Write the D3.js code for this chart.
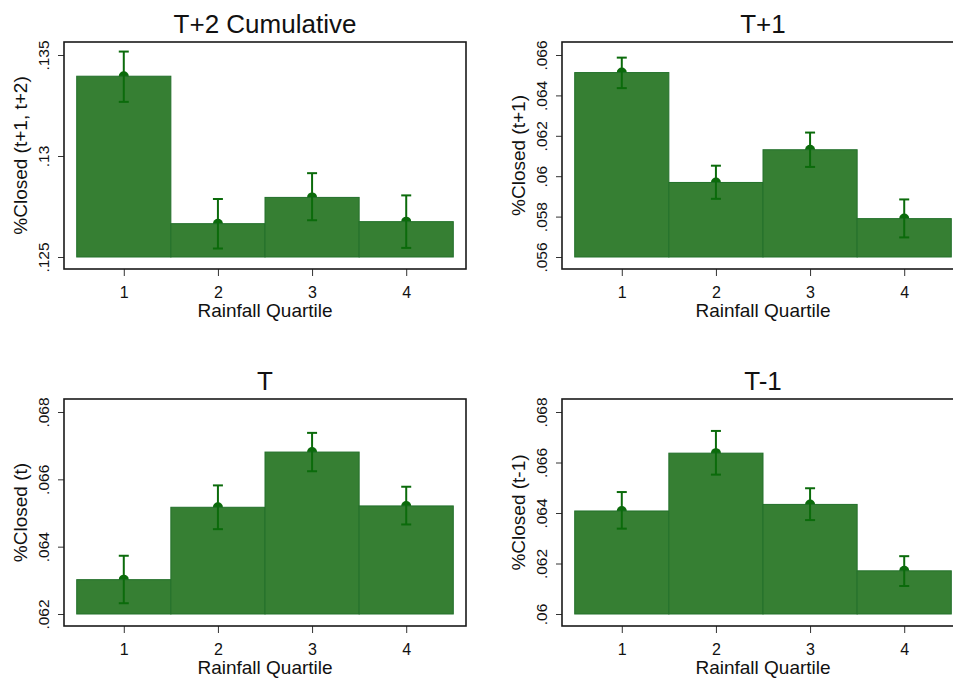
<!DOCTYPE html>
<html>
<head>
<meta charset="utf-8">
<script src="https://cdn.jsdelivr.net/npm/d3@7"></script>
<style>
  body { margin: 0; background: #fff; }
  svg { display: block; font-family: "Liberation Sans", Arial, sans-serif; }
</style>
</head>
<body>
<div id="viz"></div>
<script>
// rainfall quartile on x, share of closures on y (Stata style, 2x2 panels)
var quartiles = [1, 2, 3, 4];
var panelTitles = ["T+2 Cumulative", "T+1", "T", "T-1"];
var yTitles = ["%Closed (t+1, t+2)", "%Closed (t+1)", "%Closed (t)", "%Closed (t-1)"];

var meanT2 = [0.13395, 0.12665, 0.12795, 0.12675],
    loT2 = [0.13268, 0.12542, 0.12682, 0.12545],
    hiT2 = [0.13517, 0.12787, 0.12915, 0.12805],
    ticksT2 = [0.125, 0.13, 0.135];

var meanT1 = [0.06513, 0.05969, 0.06131, 0.0579],
    loT1 = [0.06436, 0.05888, 0.06046, 0.05697],
    hiT1 = [0.06587, 0.06052, 0.06216, 0.05885],
    ticksT1 = [0.056, 0.058, 0.06, 0.062, 0.064, 0.066];

var meanT = [0.06302, 0.06517, 0.06681, 0.06521],
    loT = [0.06232, 0.06452, 0.06624, 0.06466],
    hiT = [0.06373, 0.06582, 0.06738, 0.06578],
    ticksT = [0.062, 0.064, 0.066, 0.068];

var meanTm1 = [0.06408, 0.06637, 0.06434, 0.06171],
    loTm1 = [0.06338, 0.06552, 0.06372, 0.06111],
    hiTm1 = [0.06483, 0.06725, 0.06498, 0.06229],
    ticksTm1 = [0.06, 0.062, 0.064, 0.066, 0.068];

var panels = [
    { mean: meanT2, lo: loT2, hi: hiT2, ticks: ticksT2 },
    { mean: meanT1, lo: loT1, hi: hiT1, ticks: ticksT1 },
    { mean: meanT, lo: loT, hi: hiT, ticks: ticksT },
    { mean: meanTm1, lo: loTm1, hi: hiTm1, ticks: ticksTm1 }
];

var width = 953,
    height = 681,
    colLeft = [64, 562],
    rowTop = [42, 399],
    boxW = 402,
    boxH = 227;

var barFill = "#367f33",
    barEdge = "#22702a",
    ciColor = "#0b6b0b";

// stata drops the leading zero: .135, .06
function stataFmt(v) {
    return (+v.toFixed(4)).toString().replace(/^0\./, '.');
}

var svg = d3.select('#viz').append('svg')
    .attr('width', width)
    .attr('height', height);

panels.forEach(function (p, i) {
    var left = colLeft[i % 2],
        top = rowTop[Math.floor(i / 2)];

    var g = svg.append('g')
        .attr('transform', 'translate(' + left + ',' + top + ')');

    var x = d3.scaleLinear()
        .domain([0.365, 4.635])
        .range([0, boxW]);

    var y = d3.scaleLinear()
        .domain([p.ticks[0], p.ticks[p.ticks.length - 1]])
        .range([boxH - 12, 13]);

    var base = p.ticks[0];

    // dots first, the bars cover their lower half
    g.selectAll('circle').data(quartiles)
        .enter().append('circle')
        .attr('cx', function (d) { return x(d); })
        .attr('cy', function (d, k) { return y(p.mean[k]); })
        .attr('r', 5)
        .attr('fill', ciColor);

    g.selectAll('rect.bar').data(quartiles)
        .enter().append('rect')
        .attr('class', 'bar')
        .attr('x', function (d) { return x(d - 0.5); })
        .attr('width', function (d) { return x(d + 0.5) - x(d - 0.5); })
        .attr('y', function (d, k) { return y(p.mean[k]); })
        .attr('height', function (d, k) { return y(base) - y(p.mean[k]); })
        .attr('fill', barFill)
        .attr('stroke', barEdge)
        .attr('stroke-width', 1);

    // error bars with caps
    var ci = g.selectAll('g.ci').data(quartiles)
        .enter().append('g')
        .attr('class', 'ci')
        .attr('stroke', ciColor)
        .attr('stroke-width', 2);
    ci.append('line')
        .attr('x1', function (d) { return x(d); })
        .attr('x2', function (d) { return x(d); })
        .attr('y1', function (d, k) { return y(p.lo[k]); })
        .attr('y2', function (d, k) { return y(p.hi[k]); });
    ci.append('line')
        .attr('x1', function (d) { return x(d) - 5; })
        .attr('x2', function (d) { return x(d) + 5; })
        .attr('y1', function (d, k) { return y(p.lo[k]); })
        .attr('y2', function (d, k) { return y(p.lo[k]); });
    ci.append('line')
        .attr('x1', function (d) { return x(d) - 5; })
        .attr('x2', function (d) { return x(d) + 5; })
        .attr('y1', function (d, k) { return y(p.hi[k]); })
        .attr('y2', function (d, k) { return y(p.hi[k]); });

    // axes
    var yAxis = g.append('g')
        .call(d3.axisLeft(y).tickValues(p.ticks).tickSize(6).tickFormat(stataFmt));
    yAxis.select('.domain').remove();
    yAxis.selectAll('line').attr('stroke', '#333');
    yAxis.selectAll('text')
        .attr('transform', 'rotate(-90)')
        .attr('x', 0)
        .attr('y', -15)
        .attr('dy', 0)
        .style('text-anchor', 'middle')
        .style('font-size', '15.5px')
        .style('font-family', '"Liberation Sans", Arial, sans-serif')
        .attr('fill', '#111');

    var xAxis = g.append('g')
        .attr('transform', 'translate(0,' + boxH + ')')
        .call(d3.axisBottom(x).tickValues(quartiles).tickSize(7).tickFormat(d3.format('d')));
    xAxis.select('.domain').remove();
    xAxis.selectAll('line').attr('stroke', '#333');
    xAxis.selectAll('text')
        .attr('y', 29)
        .attr('dy', 0)
        .style('font-size', '16px')
        .style('font-family', '"Liberation Sans", Arial, sans-serif')
        .attr('fill', '#111');

    // plot region border
    g.append('rect')
        .attr('width', boxW)
        .attr('height', boxH)
        .attr('fill', 'none')
        .attr('stroke', '#1a1a1a')
        .attr('stroke-width', 1.6);

    g.append('text')
        .attr('x', boxW / 2)
        .attr('y', -9)
        .attr('text-anchor', 'middle')
        .style('font-size', '26px')
        .attr('fill', '#111')
        .text(panelTitles[i]);

    g.append('text')
        .attr('x', boxW / 2)
        .attr('y', boxH + 48)
        .attr('text-anchor', 'middle')
        .style('font-size', '19px')
        .attr('fill', '#111')
        .text('Rainfall Quartile');

    g.append('text')
        .attr('transform', 'translate(' + (-37) + ',' + (boxH / 2) + ') rotate(-90)')
        .attr('text-anchor', 'middle')
        .style('font-size', '19px')
        .attr('fill', '#111')
        .text(yTitles[i]);
});
</script>
</body>
</html>
